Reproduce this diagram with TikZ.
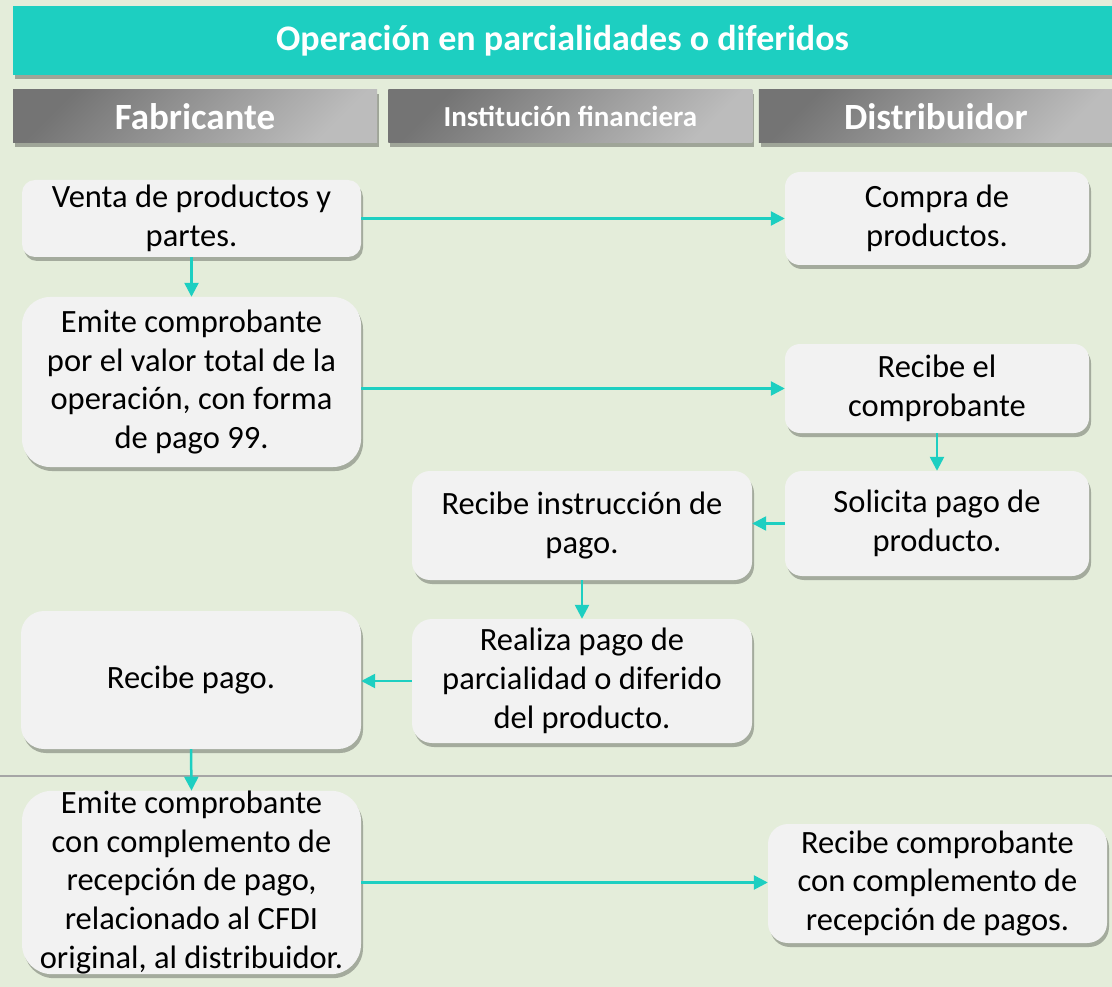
\documentclass[tikz,border=0pt]{standalone}
\usepackage{fontspec}
\setmainfont{Carlito}
\usetikzlibrary{arrows.meta, positioning, shadows}
\definecolor{fondo}{RGB}{228,237,218}
\definecolor{turquesa}{RGB}{29,207,193}
\definecolor{cajagris}{RGB}{242,242,242}
\definecolor{grisosc}{RGB}{116,116,116}
\definecolor{grisclaro}{RGB}{188,188,188}
\definecolor{lineagris}{RGB}{166,166,166}
\tikzset{
  caja/.style={
    rectangle, rounded corners=#1, fill=cajagris, align=center,
    inner sep=0pt, font=\fontsize{32.5}{38.8}\selectfont,
    drop shadow={shadow xshift=2pt, shadow yshift=-4pt,
                 fill=black, opacity=0.28}
  },
  caja/.default=15pt,
  encab/.style={
    rectangle, minimum height=53pt, inner sep=0pt, text=white,
    top color=grisosc, bottom color=grisclaro, shading angle=45,
    font=\bfseries\fontsize{37}{44}\selectfont,
    drop shadow={shadow xshift=2pt, shadow yshift=-4pt,
                 fill=black, opacity=0.3}
  },
  titulo/.style={
    rectangle, fill=turquesa, inner sep=0pt, text=white,
    minimum width=1099pt, minimum height=69pt,
    font=\bfseries\fontsize{36}{43}\selectfont,
    drop shadow={shadow xshift=2pt, shadow yshift=-4pt,
                 fill=black, opacity=0.3}
  },
  flecha/.style={-{Triangle[length=14pt, width=14pt]}, color=turquesa,
                 line width=2.5pt},
  separa/.style={draw=lineagris, line width=2.5pt}
}

\begin{document}
\begin{tikzpicture}[x=1pt, y=-1pt]
  % fondo y marco
  \fill[fondo] (0,0) rectangle (1112,987);
  \useasboundingbox (0,0) rectangle (1112,987);

  % encabezados
  \node[titulo] (tit) at (562.5,40.5) {Operación en parcialidades o diferidos};
  \node[encab, minimum width=364pt] (fab) at (195,116.5) {Fabricante};
  \node[encab, minimum width=364pt, right=11pt of fab] (inst)
    {\fontsize{29}{35}\selectfont Institución financiera};
  \node[encab, minimum width=354pt, right=6pt of inst] (dist) {Distribuidor};

  % separador
  \coordinate (sepA) at (0,776);
  \coordinate (sepB) at (1112,776);
  \draw[separa] (sepA) -- (sepB);

  % cajas
  \node[caja=13pt, minimum width=339pt, minimum height=77pt] (venta)
    at (191.5,218.5) {Venta de productos y\\partes.};
  \node[caja=28pt, minimum width=339pt, minimum height=170pt] (emite)
    at (191.5,382) {Emite comprobante\\por el valor total de la\\operación, con forma\\de pago 99.};
  \node[caja=15pt, minimum width=304pt, minimum height=93pt] (compra)
    at (937,218.5) {Compra de\\productos.};
  \node[caja=15pt, minimum width=304pt, minimum height=89pt] (recibe)
    at (937,388.5) {Recibe el\\comprobante};
  \node[caja=17pt, minimum width=304pt, minimum height=105pt] (solicita)
    at (937,523.5) {Solicita pago de\\producto.};
  \node[caja=18pt, minimum width=340pt, minimum height=109pt] (instr)
    at (582,525.5) {Recibe instrucción de\\pago.};
  \node[caja=20pt, minimum width=340pt, minimum height=124pt] (realiza)
    at (582,681) {Realiza pago de\\parcialidad o diferido\\del producto.};
  \node[caja=23pt, minimum width=340pt, minimum height=138pt] (pago)
    at (191,680) {Recibe pago.};
  \node[caja=30pt, minimum width=339pt, minimum height=181pt] (emitec)
    at (191.5,882.5) {Emite comprobante\\con complemento de\\recepción de pago,\\relacionado al CFDI\\original, al distribuidor.};
  \node[caja=20pt, minimum width=339pt, minimum height=119pt] (recibec)
    at (937.5,883.5) {Recibe comprobante\\con complemento de\\recepción de pagos.};

  % flechas
  \draw[flecha] (venta) -- (compra);
  \draw[flecha] (venta) -- (emite);
  \draw[flecha] (recibe.west -| emite.east) -- (recibe.west);
  \draw[flecha] (recibe) -- (solicita);
  \draw[flecha] (solicita.west) -- (solicita.west -| instr.east);
  \draw[flecha] (instr) -- (realiza);
  \draw[flecha] (realiza.west) -- (realiza.west -| pago.east);
  \draw[flecha] (pago.south) -- (emitec.north);
  \draw[flecha] (emitec.east) -- (emitec.east -| recibec.west);
\end{tikzpicture}
\end{document}
